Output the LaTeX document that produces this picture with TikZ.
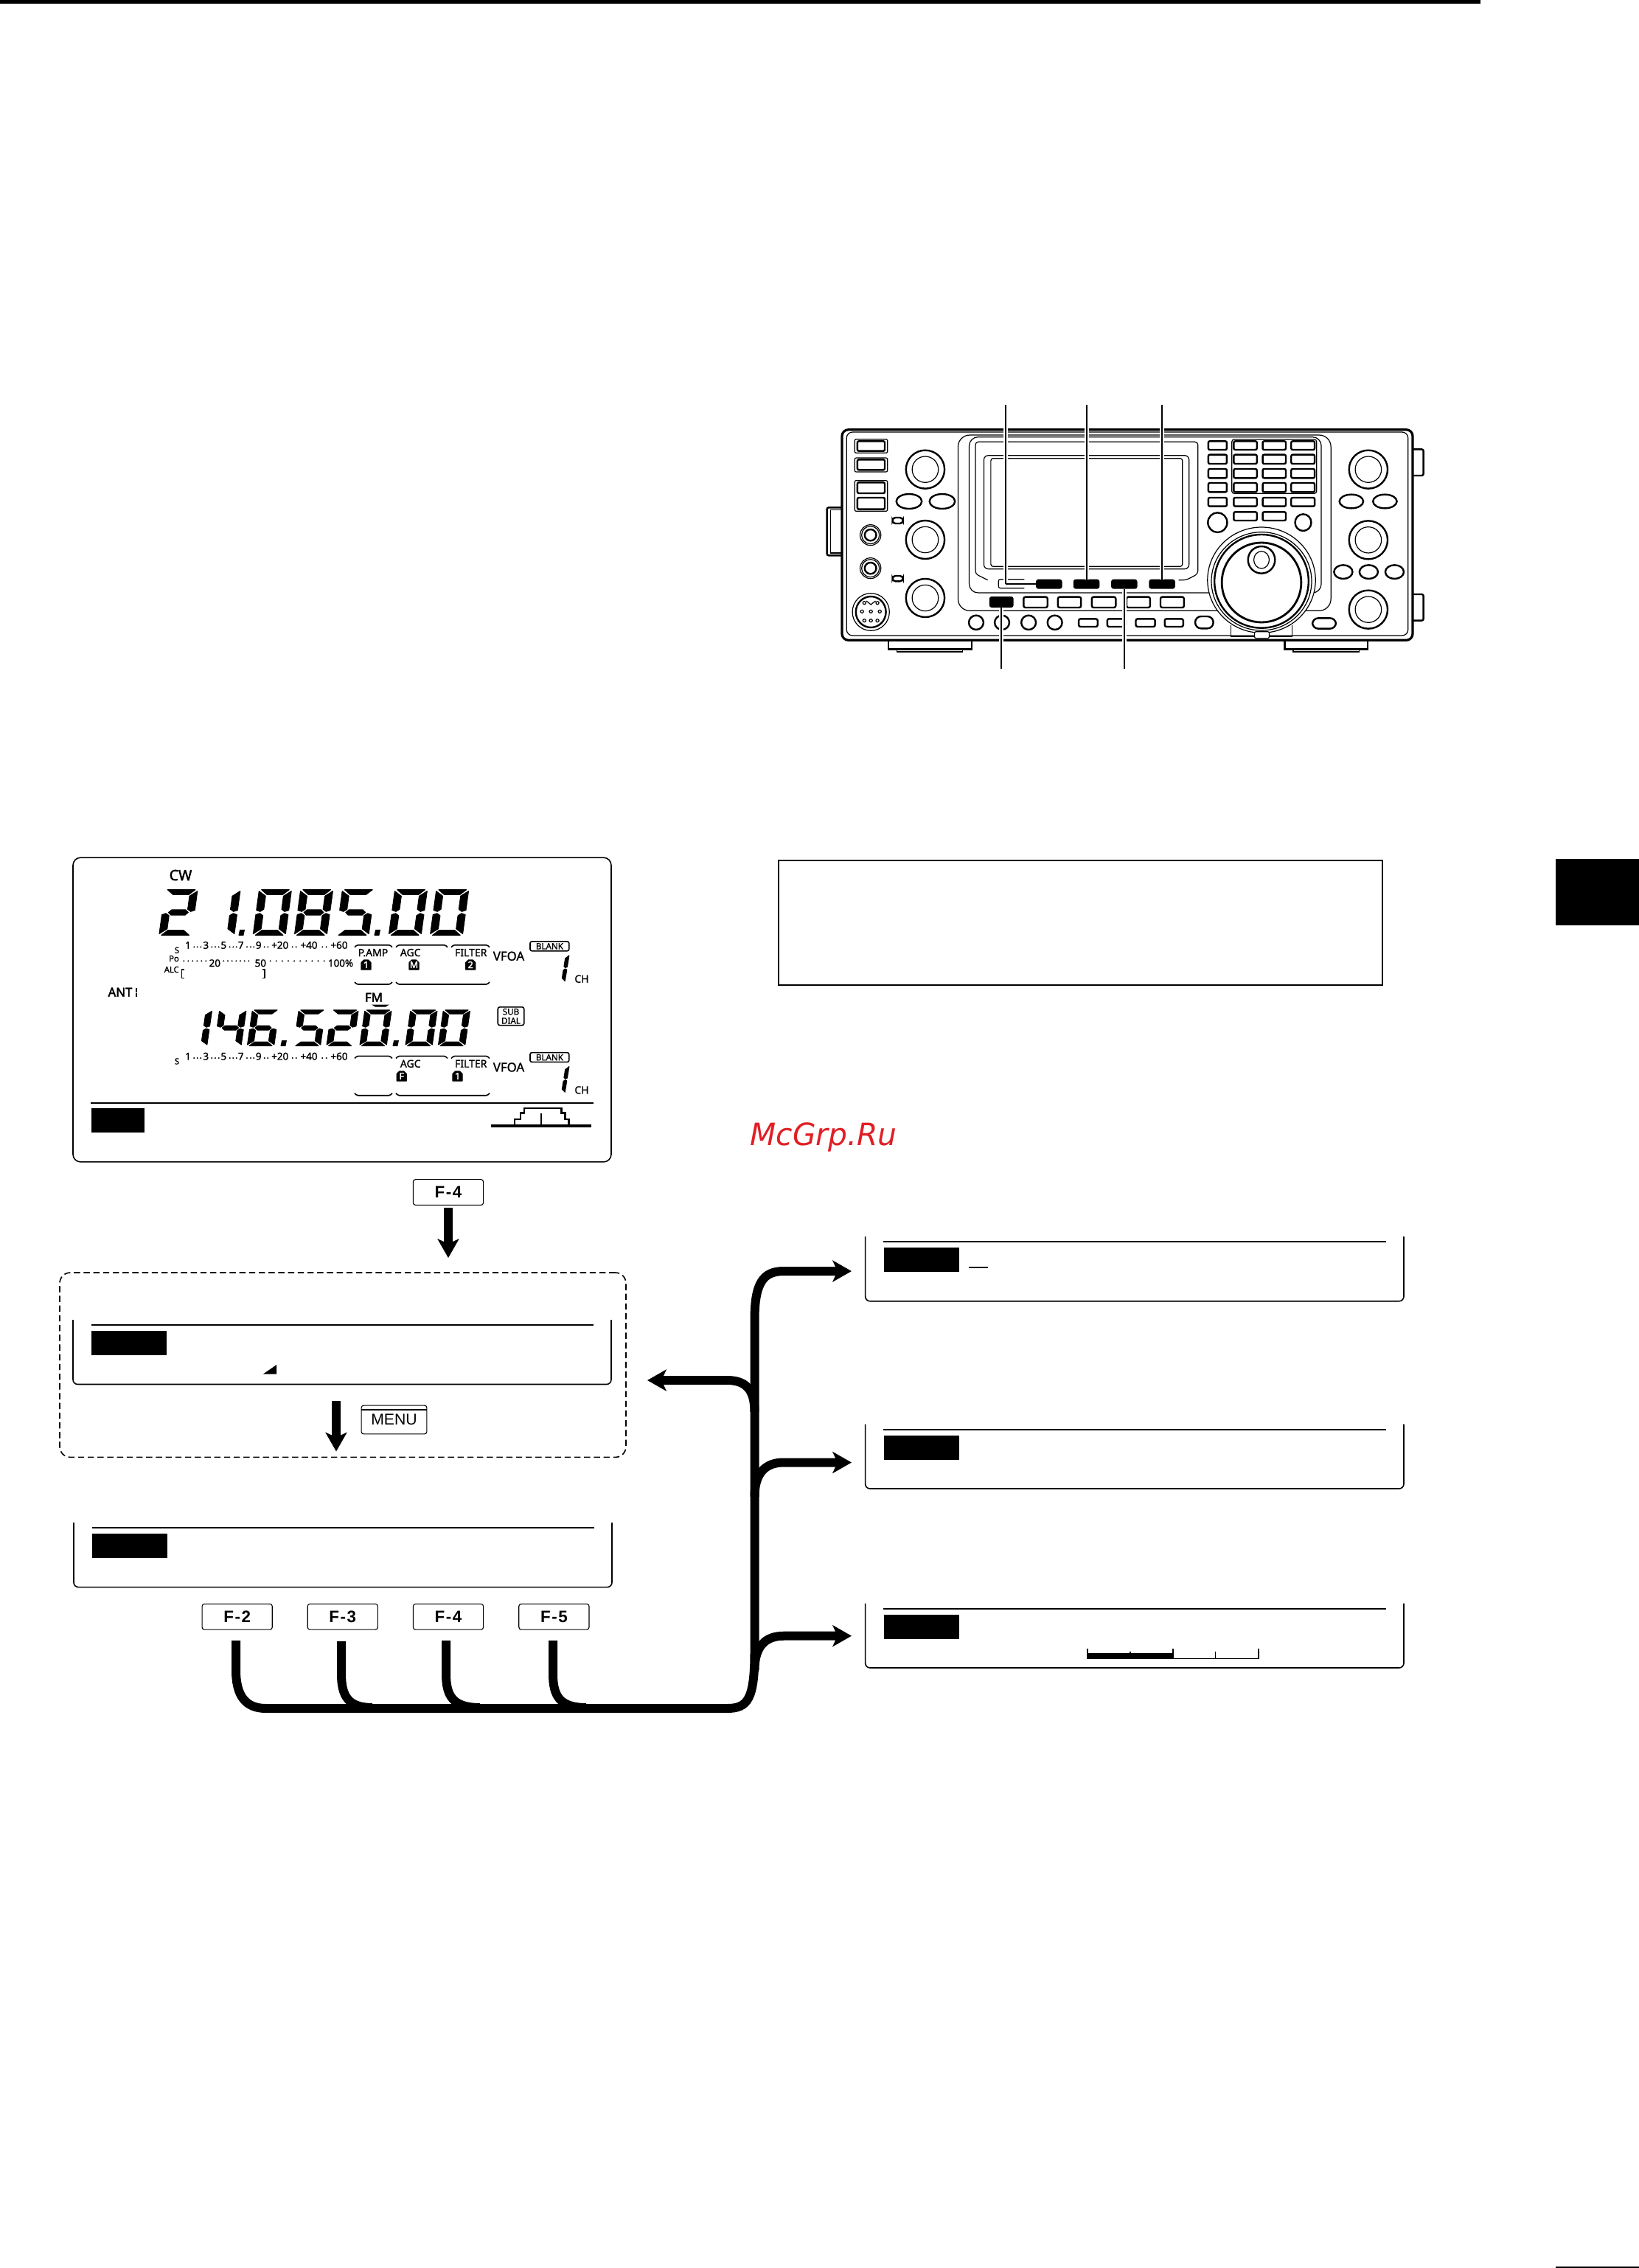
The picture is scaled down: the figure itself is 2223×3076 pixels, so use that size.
\documentclass[tikz,border=0pt]{standalone}
\usepackage{fontspec}
\setmainfont{Noto Sans}
\newfontfamily\lcdfont[FakeBold=1.2]{Noto Sans}
\newfontfamily\lcdheavy[FakeBold=2.4]{Noto Sans}
\newfontfamily\keyfont[LetterSpace=7]{Liberation Sans}
\newfontfamily\menufont{Liberation Sans}
\newfontfamily\markfont{DejaVu Sans}
\usetikzlibrary{arrows.meta,calc}
\definecolor{markred}{RGB}{224,32,38}
\tikzset{
  thin line/.style={line width=.3pt},
  frame line/.style={line width=.4pt},
  rthick/.style={line width=.6pt},
  rthin/.style={line width=.3pt},
  fkey/.style={draw,line width=.28pt,rounded corners=.8pt,minimum width=23.8pt,minimum height=8.7pt,inner sep=0pt,font=\keyfont\bfseries\fontsize{5.6}{6}\selectfont},
  lcd/.style={inner sep=0pt,anchor=base,font=\lcdfont\fontsize{3.5}{4}\selectfont},
  lcdnum/.style={inner sep=0pt,anchor=base,font=\lcdfont\fontsize{3.35}{4}\selectfont},
  lcdsmall/.style={inner sep=0pt,anchor=base,font=\lcdfont\fontsize{2.8}{3}\selectfont},
  lcdbig/.style={inner sep=0pt,anchor=base,font=\lcdfont\fontsize{4.2}{5}\selectfont},
  badgetext/.style={inner sep=0pt,text=white,font=\lcdheavy\fontsize{3.1}{3.5}\selectfont},
  flow/.style={line width=3pt,-{Stealth[length=6.4pt,width=7.2pt,inset=1.6pt]}},
  trunk/.style={line width=3pt},
  downflow/.style={line width=3pt,-{Stealth[length=6.4pt,width=7.2pt,inset=1.6pt]}},
  leader/.style={line width=.48pt},
  halo/.style={line width=1.5pt,white},
}
% seven segment parts (unit square, y up)
\newcommand\sA{\filldraw[line width=.25pt,line join=round] (.08,1)--(.92,1)--(.74,.89)--(.27,.89)--cycle;}
\newcommand\sD{\filldraw[line width=.25pt,line join=round] (.08,0)--(.92,0)--(.73,.11)--(.26,.11)--cycle;}
\newcommand\sF{\filldraw[line width=.25pt,line join=round] (.01,.97)--(.23,.86)--(.23,.57)--(.13,.52)--(.01,.55)--cycle;}
\newcommand\sB{\filldraw[line width=.25pt,line join=round] (.99,.97)--(.77,.86)--(.77,.57)--(.87,.52)--(.99,.55)--cycle;}
\newcommand\sE{\filldraw[line width=.25pt,line join=round] (.01,.03)--(.23,.14)--(.23,.43)--(.13,.48)--(.01,.45)--cycle;}
\newcommand\sC{\filldraw[line width=.25pt,line join=round] (.99,.03)--(.77,.14)--(.77,.43)--(.87,.48)--(.99,.45)--cycle;}
\newcommand\sG{\filldraw[line width=.25pt,line join=round] (.2,.5)--(.29,.56)--(.71,.56)--(.8,.5)--(.71,.44)--(.29,.44)--cycle;}
\newcommand\dgZero{\sA\sB\sC\sD\sE\sF}
\newcommand\dgOne{\sB\sC}
\newcommand\dgTwo{\sA\sB\sG\sE\sD}
\newcommand\dgFour{\sF\sG\sB\sC}
\newcommand\dgFive{\sA\sF\sG\sC\sD}
\newcommand\dgSix{\sA\sF\sG\sE\sC\sD}
\newcommand\dgEight{\sA\sB\sC\sD\sE\sF\sG}
\newcommand\bigdig[2]{\begin{scope}[shift={(#1,1268.3)},x={(11.2pt,0pt)},y={(2.1pt,15.4pt)}]#2\end{scope}}
\newcommand\smalldig[2]{\begin{scope}[shift={(#1,1418.3)},x={(9.25pt,0pt)},y={(1.75pt,12.1pt)}]#2\end{scope}}
\newcommand\chdig[1]{\begin{scope}[shift={(745.5,#1)},x={(5.2pt,0pt)},y={(1.5pt,9.25pt)}]\dgOne\end{scope}}
\newcommand\dotmark[2]{\filldraw[line width=.25pt,line join=round] (#1+1.6,#2-7)--(#1+7.4,#2-7)--(#1+6,#2)--(#1,#2)--cycle;}
% brackets
\newcommand\brtop[3]{\draw[frame line,rounded corners=.4pt] (#1,#3+3)--(#1+3,#3)--(#2-3,#3)--(#2,#3+3);}
\newcommand\brbot[3]{\draw[frame line,rounded corners=.4pt] (#1,#3-3)--(#1+3,#3)--(#2-3,#3)--(#2,#3-3);}
% black badge
\newcommand\badge[4]{\filldraw[line width=.3pt,line join=round] (#2-6.5,#3+6.5)--(#2+6.5,#3+6.5)--(#2+6.5,#3-3)--(#2+3,#3-6.5)--(#2-3,#3-6.5)--(#2-6.5,#3-3)--cycle;
  \node[badgetext] (#1) at (#2,#3) {#4};}
% meter scale
\newcommand\smeter[2]{%
  \foreach \mx/\mt [count=\mi] in {255/1,279.3/3,303.3/5,326.7/7,350.7/9,379.7/+20,419/+40,460/+60}
    \node[lcdnum] (m#1-\mi) at (\mx,#2) {\mt};
  \foreach \dx in {263.3,267.7,272.3,287.3,292,296.7,311.7,316.3,320.7,335,340,344.3,358.7,363.3,396.7,401.7,437.3,442.7}
    \fill (\dx,#2-2.4) circle (.27pt);
  \node[lcdsmall] (s#1) at (240,#2+6) {S};
  \brtop{481}{532}{#2-5}\brtop{537}{607}{#2-5}\brtop{612}{664}{#2-5}
  \brbot{481}{532}{#2+48.3}\brbot{537}{664}{#2+48.3}
  \node[lcd] (agc#1) at (556.7,#2+10.3) {AGC};
  \node[lcd] (fil#1) at (638.7,#2+10.3) {FILTER};
  \node[lcdbig] (vfo#1) at (690,#2+16) {VFOA};
  \node[draw,frame line,rounded corners=.6pt,minimum width=13.2pt,minimum height=3.2pt,inner sep=0pt,font=\lcdfont\fontsize{2.9}{3}\selectfont] (bl#1) at (745.4,#2-3.4) {BLANK};
  \node[lcd] (ch#1) at (789,#2+46) {CH};
}
\newcommand\opanel[6]{% x1 x2 y1 y2 name
  \draw[frame line,rounded corners=1.6pt] (#1,#3)--(#1,#4)--(#2,#4)--(#2,#3);
  \draw[line width=.52pt] (#1+24.5,#3+7.4)--(#2-24,#3+7.4);
  \fill (#1+25,#3+15) rectangle (#1+127,#3+48);
  \coordinate (#5) at (#1,#3);
}
\newcommand\knob[2]{%
  \draw[rthick] (#1,#2) ellipse [x radius=50,y radius=78];
  \draw[rthin] (#1,#2) ellipse [x radius=34,y radius=53];
}
\begin{document}
\begin{tikzpicture}[x=0.25pt,y=-0.25pt]
\useasboundingbox (0,0) rectangle (2223,3076);
\fill[white] (0,0) rectangle (2223,3076);
% page furniture
\fill (0,0) rectangle (2008,5);
\fill (2110,3074) rectangle (2223,3076);
\fill (2110,1165) rectangle (2223,1255);
\node[draw,line width=.55pt,minimum width=204.6pt,minimum height=42.2pt,inner sep=0pt] (note) at (1465.5,1251.3) {};
\node[inner sep=0pt,anchor=base,text=markred,font=\markfont\itshape\fontsize{10.4}{12}\selectfont,xscale=.98] (watermark) at (1117,1553) {McGrp.Ru};

% ---------- radio ----------
\begin{scope}[shift={(1120,520)},x=0.13075pt,y=-0.08333pt]
\draw[line width=.8pt,rounded corners=2.2pt] (42,188) rectangle (1522,1045);
\draw[rthin,rounded corners=2pt] (54,198) rectangle (1510,1026);
\draw[rthick,rounded corners=.6pt] (42,505)--(3,505)--(3,700)--(42,700);
\draw[rthin] (42,515)--(13,515)--(13,690)--(42,690);
\draw[rthick,rounded corners=.6pt] (1522,268)--(1550,268)--(1550,375)--(1522,375);
\draw[rthick,rounded corners=.6pt] (1522,858)--(1550,858)--(1550,965)--(1522,965);
\draw[rthick] (163,1045)--(163,1082)--(378,1082)--(378,1045);
\draw[rthin] (185,1082)--(185,1092)--(355,1092)--(355,1082);
\draw[rthick] (1190,1045)--(1190,1082)--(1405,1082)--(1405,1045);
\draw[rthin] (1212,1082)--(1212,1092)--(1383,1092)--(1383,1082);
% left keys
\draw[rthin,rounded corners=.5pt] (75,227) rectangle (160,283);
\draw[rthick,rounded corners=.5pt] (82,235) rectangle (153,275);
\draw[rthin,rounded corners=.5pt] (75,303) rectangle (160,360);
\draw[rthick,rounded corners=.5pt] (82,310) rectangle (153,352);
\draw[rthin,rounded corners=.5pt] (75,395) rectangle (160,520);
\draw[rthick,rounded corners=.5pt] (82,403) rectangle (153,447);
\draw[rthick,rounded corners=.5pt] (82,465) rectangle (153,512);
\knob{258}{350}\knob{258}{636}\knob{258}{873}
\draw[rthick] (216,480) ellipse [x radius=33,y radius=30];
\draw[rthick] (302,480) ellipse [x radius=33,y radius=30];
\draw[rthick,rounded corners=1pt] (173,546) rectangle (200,570);
\draw[rthick,rounded corners=1pt] (173,783) rectangle (200,805);
\foreach \jy in {617,752}{
  \draw[rthin] (116,\jy) ellipse [x radius=27,y radius=42];
  \draw[rthin] (116,\jy) ellipse [x radius=23,y radius=36];
  \draw[rthick] (116,\jy) ellipse [x radius=15,y radius=23];
}
\draw[rthin] (117,930) ellipse [x radius=48,y radius=76];
\draw[rthick] (117,930) ellipse [x radius=39,y radius=63];
\draw[rthin] (105,885)--(117,900)--(129,885);
\foreach \mx/\my in {117/928,94/928,140/928,100/893,134/893,100/965,134/965,117/965}
  \draw[rthin] (\mx,\my) ellipse [x radius=4,y radius=6];
% central frame
\draw[rthin,rounded corners=4pt] (343,210) rectangle (1310,925);
\draw[rthin,rounded corners=3pt] (372,218)--(1285,218)--(1285,852)--(372,852)--cycle;
\draw[rthin,rounded corners=1pt] (420,800)--(388,775)--(388,238)--(965,238)--(965,775)--(935,800)--(915,800);
\draw[rthin,rounded corners=1.5pt] (410,293) rectangle (942,755);
\draw[rthin,rounded corners=.8pt] (428,305) rectangle (925,745);
% keys below display
\draw[rthin,rounded corners=.6pt] (515,797)--(448,797)--(448,833)--(515,833);
\foreach \kx in {545,642,740,838}
  \fill[rounded corners=.8pt] (\kx,797) rectangle (\kx+68,836);
\fill[rounded corners=.8pt] (424,867) rectangle (487,912);
\foreach \kx/\ke in {513/575,602/662,690/752,780/841,868/929}
  \draw[rthick,rounded corners=.6pt] (\kx,869) rectangle (\ke,912);
\foreach \ox in {390,457,526,594}
  \draw[rthick] (\ox,973) ellipse [x radius=19,y radius=29];
\foreach \kx/\ke in {656/705,730/778,804/854,879/927}
  \draw[rthick,rounded corners=.6pt] (\kx,958) rectangle (\ke,990);
\draw[rthick,rounded corners=2pt] (958,948) rectangle (1005,997);
\draw[rthick,rounded corners=2pt] (1262,955) rectangle (1323,998);
% keypad
\draw[rthin,rounded corners=.8pt] (1053,228) rectangle (1273,448);
\foreach \ky/\ke in {235/270,290/327,348/385,405/442}{
  \draw[rthick,rounded corners=.5pt] (992,\ky) rectangle (1040,\ke);
  \draw[rthick,rounded corners=.5pt] (1058,\ky) rectangle (1118,\ke);
  \draw[rthick,rounded corners=.5pt] (1133,\ky) rectangle (1193,\ke);
  \draw[rthick,rounded corners=.5pt] (1207,\ky) rectangle (1268,\ke);
}
\draw[rthick,rounded corners=.5pt] (992,465) rectangle (1040,500);
\draw[rthick,rounded corners=.5pt] (1058,465) rectangle (1118,500);
\draw[rthick,rounded corners=.5pt] (1133,465) rectangle (1193,500);
\draw[rthick,rounded corners=.5pt] (1207,465) rectangle (1268,500);
\draw[rthick,rounded corners=.5pt] (1058,523) rectangle (1118,558);
\draw[rthick,rounded corners=.5pt] (1133,523) rectangle (1193,558);
\draw[rthick] (1016,566) ellipse [x radius=25,y radius=40];
\draw[rthick] (1238,566) ellipse [x radius=21,y radius=34];
% dial
\fill[white] (1130,800) ellipse [x radius=140,y radius=215];
\draw[rthin] (1130,800) ellipse [x radius=140,y radius=215];
\draw[rthin] (1130,805) ellipse [x radius=130,y radius=200];
\draw[rthick] (1130,805) ellipse [x radius=122,y radius=190];
\draw[line width=.7pt] (1130,810) ellipse [x radius=103,y radius=162];
\draw[rthick] (1130,718) ellipse [x radius=35,y radius=55];
\draw[rthin] (1130,718) ellipse [x radius=20,y radius=35];
\draw[rthin] (1050,985)--(1050,1030)--(1210,1030)--(1210,985);
\draw[rthin,fill=white,rounded corners=.5pt] (1112,1010) rectangle (1150,1037);
% right knobs
\knob{1407}{350}\knob{1407}{637}\knob{1407}{920}
\draw[rthick] (1363,480) ellipse [x radius=31,y radius=28];
\draw[rthick] (1450,480) ellipse [x radius=31,y radius=28];
\foreach \ox in {1342,1408,1475}
  \draw[rthick] (\ox,767) ellipse [x radius=24,y radius=28];
% leaders
\coordinate (la) at (466,87);\coordinate (lb) at (677,87);\coordinate (lc) at (871,87);
\coordinate (ld) at (455,1160);\coordinate (le) at (775,1160);
\coordinate (ka) at (466,816);\coordinate (kaa) at (545,816);
\coordinate (kb) at (677,797);\coordinate (kc) at (871,797);
\coordinate (kd) at (455,912);\coordinate (ke) at (775,836);
\foreach \la/\lb in {la/ka,lb/kb,lc/kc,ld/kd,le/ke}{
  \draw[halo] (\la)--(\lb);
}
\foreach \la/\lb in {la/ka,lb/kb,lc/kc,ld/kd,le/ke}{
  \draw[leader] (\la)--(\lb);
}
\draw[leader] (ka)--(kaa);
\end{scope}

% ---------- main LCD ----------
\node[draw,frame line,rounded corners=2.6pt,minimum width=182.5pt,minimum height=103.2pt,inner sep=0pt] (lcdmain) at (464,1369.5) {};
\node[inner sep=0pt,anchor=base,font=\lcdheavy\fontsize{4.9}{5}\selectfont] (cw) at (245,1194) {CW};
\bigdig{215.3}{\dgTwo}\bigdig{273.3}{\dgOne}\bigdig{342.7}{\dgZero}\bigdig{398.9}{\dgEight}\bigdig{455.6}{\dgFive}\bigdig{526.8}{\dgZero}\bigdig{583}{\dgZero}
\dotmark{324}{1268.3}\dotmark{508}{1268.3}
\smalldig{244}{\dgOne}\smalldig{290.4}{\dgFour}\smalldig{335}{\dgSix}\smalldig{397.9}{\dgFive}\smalldig{442.5}{\dgTwo}\smalldig{487.5}{\dgZero}\smalldig{549.5}{\dgZero}\smalldig{594}{\dgZero}
\dotmark{381}{1418.3}\dotmark{533}{1418.3}
\chdig{1331.7}\chdig{1482.4}
\smeter{a}{1286.7}\smeter{b}{1437.4}
\node[lcdsmall] (po) at (236,1304) {Po};
\node[lcdsmall] (alc) at (232.7,1319) {ALC};
\foreach \dx in {249.3,255.3,261.3,267.3,273.3,279.3,303.3,309,314.7,320.3,326,331.7,337.3,366.7,374.8,382.9,391,399.1,407.2,415.3,423.4,431.5,439.7}
  \fill (\dx,1303.3) circle (.27pt);
\node[lcdnum] (twenty) at (291.3,1311) {20};
\node[lcdnum] (fifty) at (353.3,1311) {50};
\node[lcdnum] (hundred) at (462,1311) {100\%};
\draw[line width=.32pt] (250,1315)--(246.5,1315)--(246.5,1326.7)--(250,1326.7);
\draw[line width=.32pt] (355.5,1315)--(359,1315)--(359,1326.7)--(355.5,1326.7);
\node[lcd] (pamp) at (506,1297) {P.AMP};
\badge{bonea}{496.5}{1308.5}{1}
\badge{bm}{561.5}{1308.5}{M}
\badge{btwo}{638.2}{1308.5}{2}
\badge{bf}{544.7}{1459.5}{F}
\badge{boneb}{620.5}{1459.5}{1}
\node[inner sep=0pt,anchor=base,font=\lcdheavy\fontsize{4.2}{5}\selectfont] (ant) at (163,1351.7) {ANT};
\fill (183.5,1340) rectangle (186,1345.5);
\fill (183.5,1347) rectangle (186,1352);
\node[inner sep=0pt,anchor=base,font=\lcdheavy\fontsize{4.2}{5}\selectfont] (fm) at (507,1358.7) {FM};
\fill (504,1362.5)--(528,1362.5)--(523,1365.5)--(509,1365.5)--cycle;
\node[draw,frame line,rounded corners=.7pt,minimum width=8.9pt,minimum height=6.2pt,inner sep=0pt,align=center,font=\lcdfont\fontsize{2.9}{3.1}\selectfont] (subdial) at (693,1378.2) {SUB\\DIAL};
\draw[line width=.55pt] (123,1495.7)--(805,1495.7);
\fill (124,1503) rectangle (196,1536);
\draw[line width=.8pt] (666,1527)--(802,1527);
\draw[line width=.55pt] (698,1527)--(698,1517.7)--(706,1517.7)--(706,1509.5)--(711,1509.5)--(711,1503.3)--(761.5,1503.3)--(761.5,1509.5)--(766.5,1509.5)--(766.5,1517.7)--(771.5,1517.7)--(771.5,1527);
\draw[line width=.55pt] (734,1510)--(734,1527);

% ---------- panels ----------
\opanel{99}{829}{1790}{1877.5}{pa}{}
\fill (357,1863.5)--(375,1851)--(375,1863.5)--cycle;
\opanel{100}{830}{2065}{2152.6}{pb}{}
\opanel{1173.6}{1904}{1677}{1764.7}{pc}{}
\draw[line width=.45pt] (1314,1719)--(1340,1719);
\opanel{1173.6}{1904}{1931.7}{2019}{pd}{}
\opanel{1173.6}{1904}{2174.5}{2262}{pe}{}
\fill (1474,2242)--(1591,2242)--(1591,2250)--(1474,2250)--cycle;
\draw[line width=.45pt] (1591,2249.5)--(1707,2249.5);
\foreach \tx/\ty in {1475/2236,1533/2240,1591/2236,1648.5/2240,1707/2236}
  \draw[line width=.42pt] (\tx,\ty)--(\tx,2250);

% ---------- dashed area, keys and arrows ----------
\node[draw,line width=.4pt,dash pattern=on 2.1pt off 1.2pt,rounded corners=3.6pt,minimum width=192pt,minimum height=62.6pt,inner sep=0pt] (menuarea) at (465,1851.2) {};
\node[fkey] (ftop) at (608,1617) {F-4};
\node[fkey] (ftwo) at (321.7,2192.7) {F-2};
\node[fkey] (fthree) at (464.8,2192.7) {F-3};
\node[fkey] (ffour) at (608,2192.7) {F-4};
\node[fkey] (ffive) at (751.4,2192.7) {F-5};
\node[draw,line width=.28pt,rounded corners=.8pt,minimum width=22.2pt,minimum height=9.7pt,inner sep=0pt,font=\menufont\fontsize{5.3}{6}\selectfont] (menukey) at (534.5,1925.5) {\raisebox{-.8pt}{MENU}};
\draw[line width=.28pt] (490,1912)--(579,1912);

\coordinate (a0) at (608,1638);\coordinate (a1) at (608,1706);
\draw[downflow] (a0)--(a1);
\coordinate (b0) at (456,1900);\coordinate (b1) at (456,1968.5);
\draw[downflow] (b0)--(b1);

\coordinate (f2o) at (320,2225);\coordinate (f3o) at (463,2226);\coordinate (f4o) at (605,2225);\coordinate (f5o) at (750,2225);
\coordinate (toc) at (1155,1724);\coordinate (tod) at (1155,1983.5);\coordinate (toe) at (1155,2218.7);\coordinate (tol) at (878,1872);
\draw[flow] (f2o)--(320,2265) .. controls (320,2300) and (333,2317) .. (361,2317)--(986,2317) .. controls (1014,2317) and (1023.5,2305) .. (1023.5,2240)--(1023.5,1790) .. controls (1023.5,1740) and (1035,1724) .. (1063,1724)--(toc);
\draw[trunk] (f3o)--(463,2270) .. controls (463,2300) and (472,2316) .. (505,2316);
\draw[trunk] (f4o)--(605,2270) .. controls (605,2300) and (614,2316) .. (651,2316);
\draw[trunk] (f5o)--(750,2270) .. controls (750,2300) and (759,2316) .. (795,2316);
\draw[flow] (1023.5,1915) .. controls (1023.5,1885) and (1012,1872) .. (986,1872)--(tol);
\draw[flow] (1023.5,2030) .. controls (1023.5,1998) and (1038,1983.5) .. (1063,1983.5)--(tod);
\draw[flow] (1023.5,2265) .. controls (1023.5,2233) and (1038,2218.7) .. (1063,2218.7)--(toe);
\end{tikzpicture}
\end{document}
